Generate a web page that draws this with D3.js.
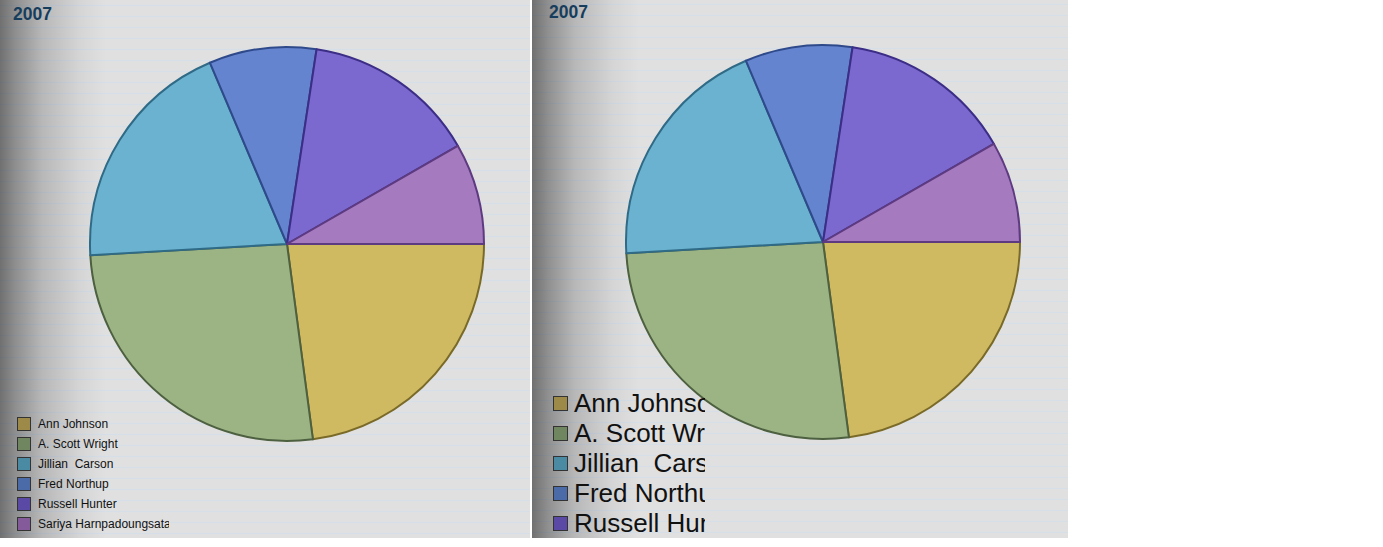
<!DOCTYPE html>
<html><head><meta charset="utf-8">
<script src="https://cdn.jsdelivr.net/npm/d3@7"></script>
<style>body{margin:0;background:#fff;}svg{display:block;font-family:"Liberation Sans",Arial,sans-serif;}text{white-space:pre;}</style>
</head><body>
<svg id="c" width="1383" height="547"></svg>
<script>
const title = "2007";
const names = ["Ann Johnson","A. Scott Wright","Jillian  Carson","Fred Northup","Russell Hunter","Sariya Harnpadoungsata"];
const values = [22.9, 26.2, 19.5, 8.8, 14.3, 8.3];
const fills = ["#cfba62","#9cb384","#6ab2cf","#6584d0","#7b69d0","#a57abf"];
const strokes = ["#7a6a28","#4d6040","#2f6a86","#2f4a8a","#3c2e86","#5e3a80"];
const swatch = ["#9e8a48","#6f8660","#4a8aa3","#4a6aa8","#5b4aa5","#845a9a"];

const svg = d3.select("#c");
const defs = svg.append("defs");
const g = defs.append("linearGradient").attr("id","shade").attr("x1",0).attr("x2",1).attr("y1",0).attr("y2",0);
[[0,"#000",0.5],[0.03,"#000",0.36],[0.08,"#000",0.18],[0.15,"#000",0.05],[0.2,"#000",0]].forEach(s=>g.append("stop").attr("offset",s[0]).attr("stop-color",s[1]).attr("stop-opacity",s[2]));

const panels = [
  {x:0,w:530,h:538,cx:287,cy:244,r:197,titleX:13,titleY:20,stripeOff:5.5,
   leg:{x:17,y:417,sw:13,step:20,fs:12,tx:38,clip:169,n:6}},
  {x:532,w:536,h:538,cx:291,cy:242,r:197,titleX:17,titleY:18,stripeOff:4.3,
   leg:{x:21,y:396,sw:14,step:30,fs:26,tx:42,clip:173,n:5}}
];

const pie = d3.pie().sort(null).value(d=>d).startAngle(Math.PI/2).endAngle(Math.PI/2+2*Math.PI);

panels.forEach((p,pi)=>{
  const G = svg.append("g").attr("transform",`translate(${p.x},0)`);
  defs.append("clipPath").attr("id","pc"+pi).append("rect").attr("width",p.w).attr("height",p.h);
  const inner = G.append("g").attr("clip-path",`url(#pc${pi})`);
  inner.append("rect").attr("width",p.w).attr("height",p.h).attr("fill","#e0e0e0");
  const ys = d3.range(p.stripeOff, p.h, 11);
  inner.selectAll("line.s").data(ys).enter().append("line")
    .attr("x1",0).attr("x2",p.w).attr("y1",d=>d).attr("y2",d=>d)
    .attr("stroke","#d6dee8").attr("stroke-width",1.3);
  inner.append("rect").attr("width",p.w).attr("height",p.h).attr("fill","url(#shade)");

  inner.append("text").attr("x",p.titleX).attr("y",p.titleY).text(title)
    .attr("font-size",17.5).attr("font-weight","bold").attr("fill","#173d5c");

  const arc = d3.arc().innerRadius(0).outerRadius(p.r);
  const pg = inner.append("g").attr("transform",`translate(${p.cx},${p.cy})`);
  pg.selectAll("path").data(pie(values)).enter().append("path")
    .attr("d",arc).attr("fill",(d,i)=>fills[i]).attr("stroke",(d,i)=>strokes[i])
    .attr("stroke-width",2).attr("stroke-linejoin","round");

  const L = p.leg;
  defs.append("clipPath").attr("id","lc"+pi).append("rect").attr("x",0).attr("y",0).attr("width",L.clip).attr("height",p.h);
  const lg = inner.append("g").attr("clip-path",`url(#lc${pi})`);
  const rows = lg.selectAll("g").data(names.slice(0,L.n)).enter().append("g")
    .attr("transform",(d,i)=>`translate(0,${L.y+i*L.step})`);
  rows.append("rect").attr("x",L.x+0.5).attr("y",0.5).attr("width",L.sw).attr("height",L.sw)
    .attr("fill",(d,i)=>swatch[i]).attr("stroke","#333").attr("stroke-width",1);
  rows.append("text").attr("x",L.tx).attr("y",L.sw/2).attr("dy","0.36em")
    .attr("font-size",L.fs).attr("fill","#111").text(d=>d);
});
</script>
</body></html>
